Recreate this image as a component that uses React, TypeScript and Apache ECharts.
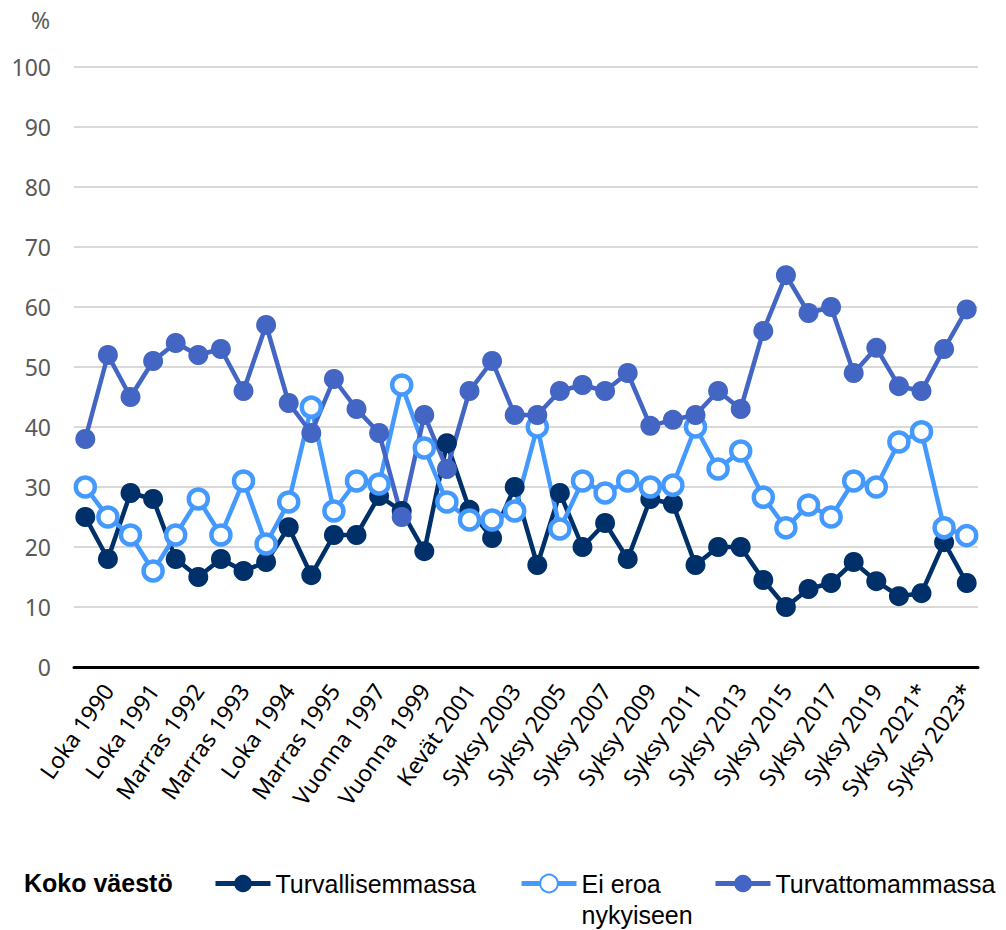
import React, { useEffect, useRef } from "react";
import * as echarts from "echarts";

const categories: string[] = [
  "Kevät 1990", "Loka 1990", "Kevät 1991", "Loka 1991", "Kevät 1992",
  "Marras 1992", "Kevät 1993", "Marras 1993", "Kevät 1994", "Loka 1994",
  "Kevät 1995", "Marras 1995", "Vuonna 1996", "Vuonna 1997", "Vuonna 1998",
  "Vuonna 1999", "Vuonna 2000", "Kevät 2001", "Syksy 2002", "Syksy 2003",
  "Syksy 2004", "Syksy 2005", "Syksy 2006", "Syksy 2007", "Syksy 2008",
  "Syksy 2009", "Syksy 2010", "Syksy 2011", "Syksy 2012", "Syksy 2013",
  "Syksy 2014", "Syksy 2015", "Syksy 2016", "Syksy 2017", "Syksy 2018",
  "Syksy 2019", "Syksy 2020", "Syksy 2021*", "Syksy 2022*", "Syksy 2023*",
];

const turvallisemmassa: number[] = [
  25, 18, 29, 28, 18, 15, 18, 16, 17.5, 23.3,
  15.3, 22, 22, 28.5, 26, 19.3, 37.3, 26.2, 21.5, 30,
  17, 29, 20, 24, 18, 28, 27.2, 17, 20, 20,
  14.5, 10, 13, 14, 17.5, 14.3, 11.8, 12.3, 20.8, 14,
];

const eiEroa: number[] = [
  30, 25, 22, 16, 22, 28, 22, 31, 20.5, 27.5,
  43.3, 26, 31, 30.5, 47, 36.5, 27.5, 24.5, 24.5, 26,
  40, 23, 31, 29, 31, 30, 30.3, 40, 33, 36,
  28.3, 23.2, 27, 25, 31, 30, 37.5, 39.2, 23.2, 21.9,
];

const turvattomammassa: number[] = [
  38, 52, 45, 51, 54, 52, 53, 46, 57, 44,
  39, 48, 43, 39, 25, 42, 33, 46, 51, 42,
  42, 46, 47, 46, 49, 40.2, 41.2, 42, 46, 43,
  56, 65.3, 59, 60, 49, 53.2, 46.8, 46, 53, 59.6,
];

const seriesNames = ["Turvallisemmassa", "Ei eroa nykyiseen", "Turvattomammassa"];
const colors = ["#00306a", "#4499ff", "#4365c3"];

export default function App() {
  const ref = useRef<HTMLDivElement>(null);
  useEffect(() => {
    if (!ref.current) return;
    const chart = echarts.init(ref.current, undefined, { renderer: "svg" });
    const axisFont = "'Noto Sans', sans-serif";
    const legendFont = "'Liberation Sans', sans-serif";
    const legendCommon = {
      orient: "horizontal" as const,
      itemWidth: 55,
      itemHeight: 22,
      padding: 0,
      selectedMode: false,
      lineStyle: { width: 5 },
      textStyle: { fontFamily: legendFont, fontSize: 25, color: "#000", lineHeight: 31 },
    };
    chart.setOption({
      animation: false,
      backgroundColor: "#fff",
      grid: { left: 74, right: 28, top: 67, bottom: 263, containLabel: false },
      xAxis: {
        type: "category",
        data: categories,
        boundaryGap: true,
        axisLine: { lineStyle: { color: "#000", width: 3 } },
        axisTick: { show: false },
        axisLabel: {
          interval: (i: number) => i % 2 === 1,
          rotate: 55,
          margin: 19,
          color: "#000",
          fontFamily: axisFont,
          fontSize: 23,
        },
      },
      yAxis: {
        type: "value",
        min: 0,
        max: 100,
        interval: 10,
        axisLine: { show: false },
        axisTick: { show: false },
        splitLine: { lineStyle: { color: "#d9d9d9", width: 2 } },
        axisLabel: { color: "#595959", fontFamily: axisFont, fontSize: 23, margin: 23 },
      },
      graphic: [
        {
          type: "text",
          left: 31,
          top: 8,
          style: { text: "%", fill: "#595959", font: `23px ${axisFont}` },
        },
        {
          type: "text",
          left: 24,
          top: 870,
          style: { text: "Koko väestö", fill: "#000", font: `bold 25px ${legendFont}` },
        },
      ],
      legend: [
        { ...legendCommon, left: 213, top: 868, data: [seriesNames[0]] },
        {
          ...legendCommon,
          left: 519,
          top: 837,
          formatter: () => "\nEi eroa\nnykyiseen",
          data: [seriesNames[1]],
        },
        { ...legendCommon, left: 713, top: 868, data: [seriesNames[2]] },
      ],
      series: [
        {
          name: seriesNames[0],
          type: "line",
          data: turvallisemmassa,
          symbol: "circle",
          symbolSize: 20,
          showAllSymbol: true,
          lineStyle: { color: colors[0], width: 4.5 },
          itemStyle: { color: colors[0] },
        },
        {
          name: seriesNames[1],
          type: "line",
          data: eiEroa,
          symbol: "circle",
          symbolSize: 19,
          showAllSymbol: true,
          lineStyle: { color: colors[1], width: 4.5 },
          itemStyle: { color: "#fff", borderColor: colors[1], borderWidth: 4.5 },
        },
        {
          name: seriesNames[2],
          type: "line",
          data: turvattomammassa,
          symbol: "circle",
          symbolSize: 20,
          showAllSymbol: true,
          lineStyle: { color: colors[2], width: 4.5 },
          itemStyle: { color: colors[2] },
        },
      ],
    });
    return () => chart.dispose();
  }, []);
  return (
    <div
      ref={ref}
      style={{ position: "fixed", left: 0, top: 0, width: 1006, height: 930 }}
    />
  );
}
